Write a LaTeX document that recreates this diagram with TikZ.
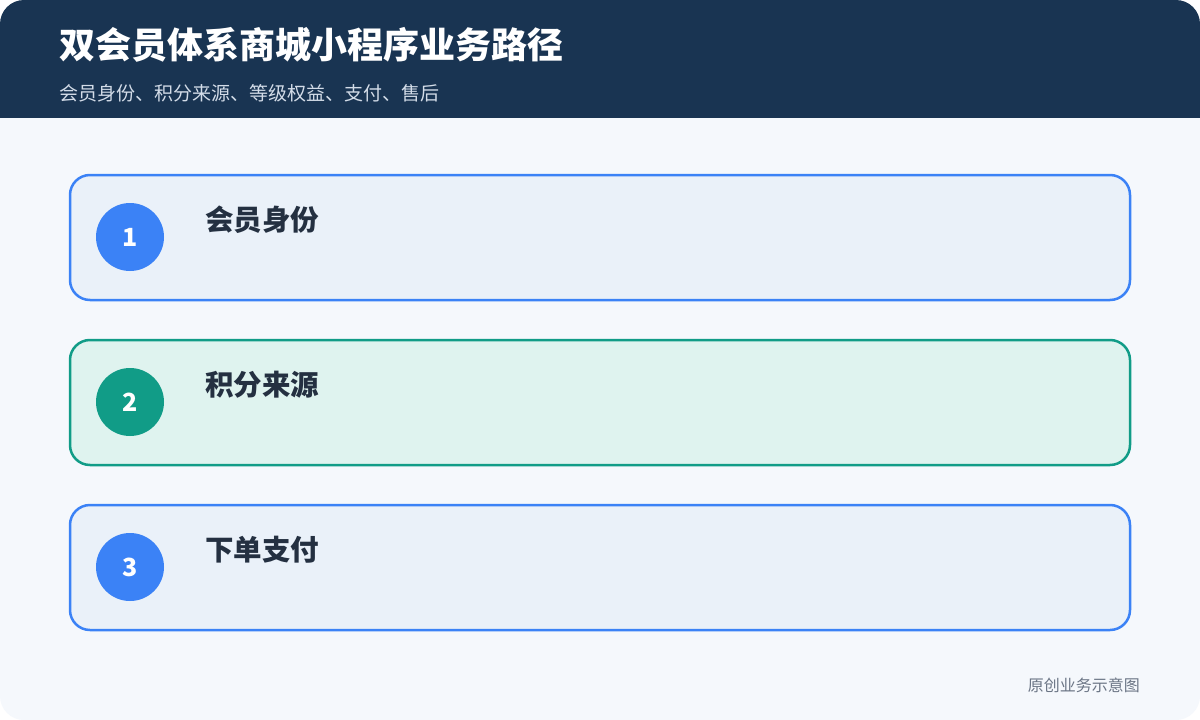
\documentclass[tikz,border=0pt]{standalone}
\usepackage{fontspec}
\setmainfont{Noto Sans CJK SC}
\newfontfamily\cjk{Noto Sans CJK SC}
\definecolor{pagebg}{HTML}{F5F8FC}
\definecolor{headbg}{HTML}{193452}
\definecolor{subtxt}{HTML}{D3DCE8}
\definecolor{blueb}{HTML}{3B82F6}
\definecolor{bluef}{HTML}{EAF1F9}
\definecolor{tealb}{HTML}{119C87}
\definecolor{tealf}{HTML}{DFF3EF}
\definecolor{darktxt}{HTML}{243041}
\definecolor{foot}{HTML}{6B7585}
\begin{document}
\begin{tikzpicture}[x=1pt,y=-1pt,
  card/.style={draw, line width=2.5pt, rounded corners=20pt},
  numdot/.style={circle, minimum size=68pt, inner sep=0pt, text=white, font=\fontsize{25}{29}\selectfont\bfseries},
  cardtitle/.style={anchor=west, text=darktxt, inner sep=0pt, font=\fontsize{28.5}{32}\selectfont\bfseries}]
\useasboundingbox (0,0) rectangle (1200,720);
\fill[white] (0,0) rectangle (1200,720);
\begin{scope}
\clip[rounded corners=24pt] (0,0) rectangle (1200,720);
\fill[pagebg] (0,0) rectangle (1200,720);
\fill[headbg] (0,0) rectangle (1200,118);
\end{scope}
\node[anchor=west, text=white, inner sep=0pt, font=\fontsize{36}{40}\selectfont\bfseries] (title) at (59,45) {双会员体系商城小程序业务路径};
\node[anchor=west, text=subtxt, inner sep=0pt, font=\fontsize{19}{23}\selectfont] (subtitle) at (59,93) {会员身份、积分来源、等级权益、支付、售后};
% cards
\draw[card, blueb, fill=bluef] (70,175) rectangle (1130,300);
\node[numdot, fill=blueb] (n1) at (130,237) {1};
\node[cardtitle] (t1) at (205,220) {会员身份};
\draw[card, tealb, fill=tealf] (70,340) rectangle (1130,465);
\node[numdot, fill=tealb] (n2) at (130,402) {2};
\node[cardtitle] (t2) at (205,385) {积分来源};
\draw[card, blueb, fill=bluef] (70,505) rectangle (1130,630);
\node[numdot, fill=blueb] (n3) at (130,567) {3};
\node[cardtitle] (t3) at (205,550) {下单支付};
\node[anchor=east, text=foot, inner sep=0pt, font=\fontsize{16}{19}\selectfont] (footer) at (1140,685) {原创业务示意图};
\end{tikzpicture}
\end{document}
